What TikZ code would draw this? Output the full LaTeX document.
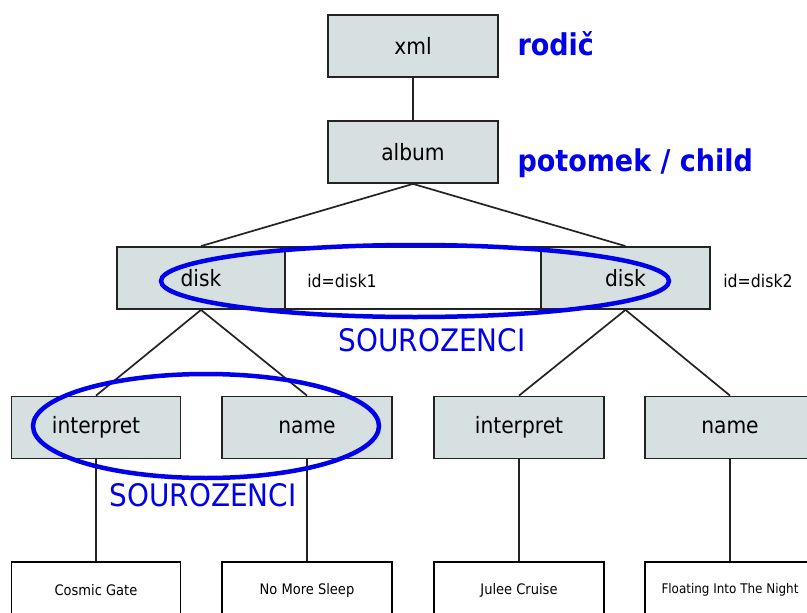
\documentclass[tikz,border=0pt]{standalone}
\usepackage{fontspec}
\setmainfont{DejaVu Sans Condensed}
\usetikzlibrary{shapes.geometric}
\definecolor{boxfill}{RGB}{214,224,224}
\definecolor{sibblue}{RGB}{0,0,235}
\definecolor{edgegray}{RGB}{35,35,35}
\tikzset{
  el/.style={draw=edgegray,line width=1.8pt,fill=boxfill,minimum width=170pt,minimum height=62pt,inner sep=0pt,font=\fontsize{22.5}{26}\selectfont},
  leaf/.style={draw=black,line width=1.5pt,fill=white,minimum width=170pt,minimum height=80pt,inner sep=0pt},
  leaftxt/.style={font=\fontsize{14.5}{17}\selectfont},
  attr/.style={font=\fontsize{17.5}{20}\selectfont},
  conn/.style={draw=edgegray,line width=1.7pt},
  bluelab/.style={text=sibblue,font=\fontsize{30}{34}\selectfont\bfseries},
  sibtxt/.style={text=sibblue,font=\fontsize{31}{35}\selectfont},
  sibring/.style={draw=sibblue,line width=4.5pt}
}
\begin{document}
\begin{tikzpicture}[x=1pt,y=-1pt]
\useasboundingbox (0,0) rectangle (807,613);
\clip (0,0) rectangle (807,613);
\fill[white] (0,0) rectangle (807,613);
% top
\node[el] (xml) at (413,46) {xml};
\node[el] (album) at (413,152) {album};
\node[bluelab,anchor=west] (rodic) at (514,44) {rodič};
\node[bluelab,anchor=west] (potomek) at (514,163) {potomek / child};
% level 2
\node[el,minimum width=256pt,fill=white] (attr1) at (413,278) {};
\node[el,minimum width=168pt] (disk1) at (201,278) {disk};
\node[el,minimum width=169pt] (disk2) at (625.5,278) {disk};
\node[attr] (idone) at (342,281) {id=disk1};
\node[attr] (idtwo) at (758,281) {id=disk2};
% level 3
\node[el,minimum width=169pt] (int1) at (96,427.5) {interpret};
\node[el] (name1) at (307,427.5) {name};
\node[el] (int2) at (519,427.5) {interpret};
\node[el] (name2) at (730,427.5) {name};
% leaves
\node[leaf,minimum width=169pt] (leaf1) at (96,602) {};
\node[leaf] (leaf2) at (307,602) {};
\node[leaf] (leaf3) at (519,602) {};
\node[leaf] (leaf4) at (730,602) {};
\node[leaftxt] (t1) at (96,590) {Cosmic Gate};
\node[leaftxt] (t2) at (307,590) {No More Sleep};
\node[leaftxt] (t3) at (519,590) {Julee Cruise};
\node[leaftxt,font=\fontsize{13.3}{16}\selectfont] (t4) at (730,590) {Floating Into The Night};
% connectors
\draw[conn] (xml.south) -- (album.north);
\draw[conn] (album.south) -- (disk1.north);
\draw[conn] (album.south) -- (disk2.north);
\draw[conn] (disk1.south) -- (int1.north);
\draw[conn] (disk1.south) -- (name1.north);
\draw[conn] (disk2.south) -- (int2.north);
\draw[conn] (disk2.south) -- (name2.north);
\draw[conn] (int1.south) -- (leaf1.north);
\draw[conn] (name1.south) -- (leaf2.north);
\draw[conn] (int2.south) -- (leaf3.north);
\draw[conn] (name2.south) -- (leaf4.north);
% sibling rings
\draw[sibring] (415,281) ellipse [x radius=254pt, y radius=36pt];
\draw[sibring] (206,426) ellipse [x radius=173pt, y radius=52pt];
\node[sibtxt] (sib1) at (432,340) {SOUROZENCI};
\node[sibtxt] (sib2) at (203,495) {SOUROZENCI};
\end{tikzpicture}
\end{document}
